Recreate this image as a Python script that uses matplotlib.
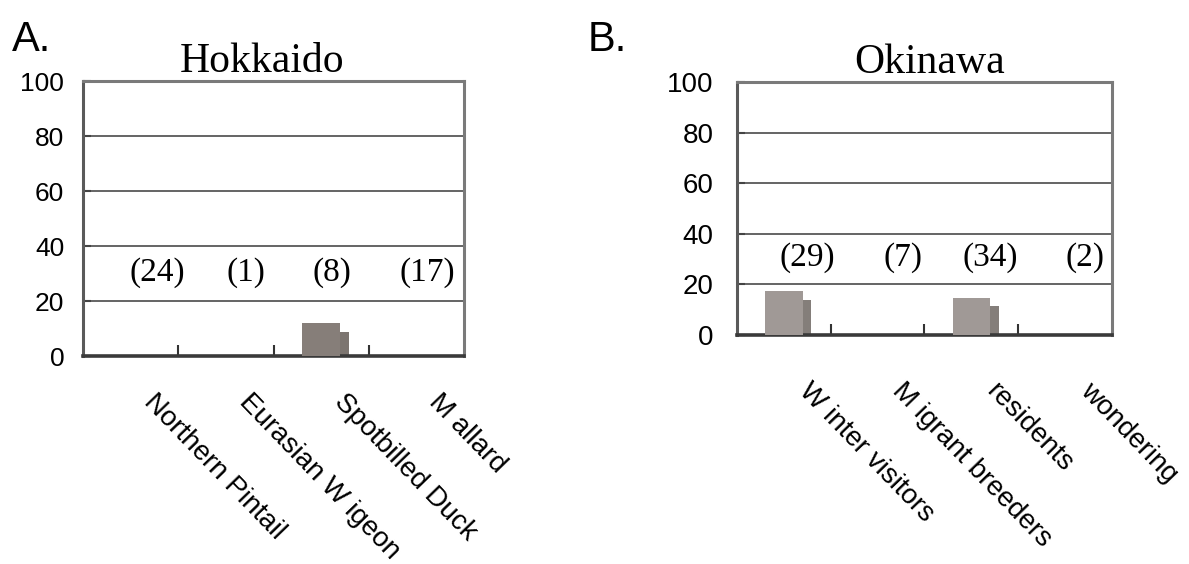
import numpy as np
import matplotlib
matplotlib.use("Agg")
import matplotlib.pyplot as plt

# ---------------- data ----------------
hokkaido_categories = ["Northern Pintail", "Eurasian W igeon", "Spotbilled Duck", "M allard"]
hokkaido_front = [0, 0, 12, 0]
hokkaido_side = [0, 0, 9, 0]
hokkaido_n = [24, 1, 8, 17]

okinawa_categories = ["W inter visitors", "M igrant breeders", "residents", "wondering"]
okinawa_front = [17.5, 0, 14.5, 0]
okinawa_side = [14, 0, 11.5, 0]
okinawa_n = [29, 7, 34, 2]

y_ticks = [0, 20, 40, 60, 80, 100]

# ---------------- figure ----------------
fig = plt.figure(figsize=(11.89, 5.64), dpi=100)
fig.patch.set_facecolor("white")

SANS = ["Liberation Sans", "DejaVu Sans"]
SERIF = ["Liberation Serif", "DejaVu Serif"]


def panel(rect, title, cats, front, side, counts, front_col, side_col,
          count_x, label_dx, label_dy, title_dx, ytick_fs, ytick_pad):
    ax = fig.add_axes(rect)
    x = np.arange(len(cats)) + 0.5
    ax.bar(x, front, width=0.40, color=front_col, linewidth=0, zorder=3)
    ax.bar(x + 0.245, side, width=0.09, color=side_col, linewidth=0, zorder=2)
    ax.set_xlim(0, len(cats))
    ax.set_ylim(0, 100)
    ax.set_yticks(y_ticks)
    ax.set_yticklabels([str(v) for v in y_ticks], fontfamily=SANS, fontsize=ytick_fs)
    ax.tick_params(axis="y", direction="in", length=6, width=1.5, color="#444444", pad=ytick_pad)
    ax.set_xticks([1, 2, 3])
    ax.set_xticklabels([])
    ax.tick_params(axis="x", direction="in", length=8, width=1.5, color="#333333")
    for v in y_ticks[1:-1]:
        ax.axhline(v, color="#4a4a4a", linewidth=1.2, zorder=1)
    for s in ["top", "right", "left"]:
        ax.spines[s].set_color("#7a7a7a")
        ax.spines[s].set_linewidth(2.2)
    ax.spines["left"].set_color("#5a5a5a")
    ax.spines["bottom"].set_color("#3a3a3a")
    ax.spines["bottom"].set_linewidth(2.6)
    ax.set_title(title, fontfamily=SERIF, fontsize=30, pad=6, x=0.5 + title_dx)
    for cx, n in zip(count_x, counts):
        ax.text(cx, 30.5, f"({n})", fontfamily=SERIF, fontsize=24,
                ha="center", va="center", zorder=4)
    trans = ax.get_xaxis_transform()
    for xi, c in zip(x, cats):
        ax.text(xi + label_dx, label_dy, c, transform=trans, rotation=-46,
                rotation_mode="anchor", ha="left", va="baseline",
                fontfamily=SANS, fontsize=20)
    return ax


panel([0.0698, 0.368, 0.3205, 0.4875], "Hokkaido", hokkaido_categories,
      hokkaido_front, hokkaido_side, hokkaido_n, "#867e79", "#7c7570",
      [0.785, 1.707, 2.618, 3.613], 0.126, -0.170, -0.03, 19, 13.5)

panel([0.6198, 0.406, 0.3154, 0.4486], "Okinawa", okinawa_categories,
      okinawa_front, okinawa_side, okinawa_n, "#a09996", "#847e7a",
      [0.75, 1.77, 2.70, 3.71], 0.15, -0.225, 0.015, 20, 17)

fig.text(0.010, 0.965, "A.", fontfamily=SANS, fontsize=30, va="top", ha="left")
fig.text(0.494, 0.965, "B.", fontfamily=SANS, fontsize=30, va="top", ha="left")

fig.savefig("out.png", dpi=100, facecolor="white")
